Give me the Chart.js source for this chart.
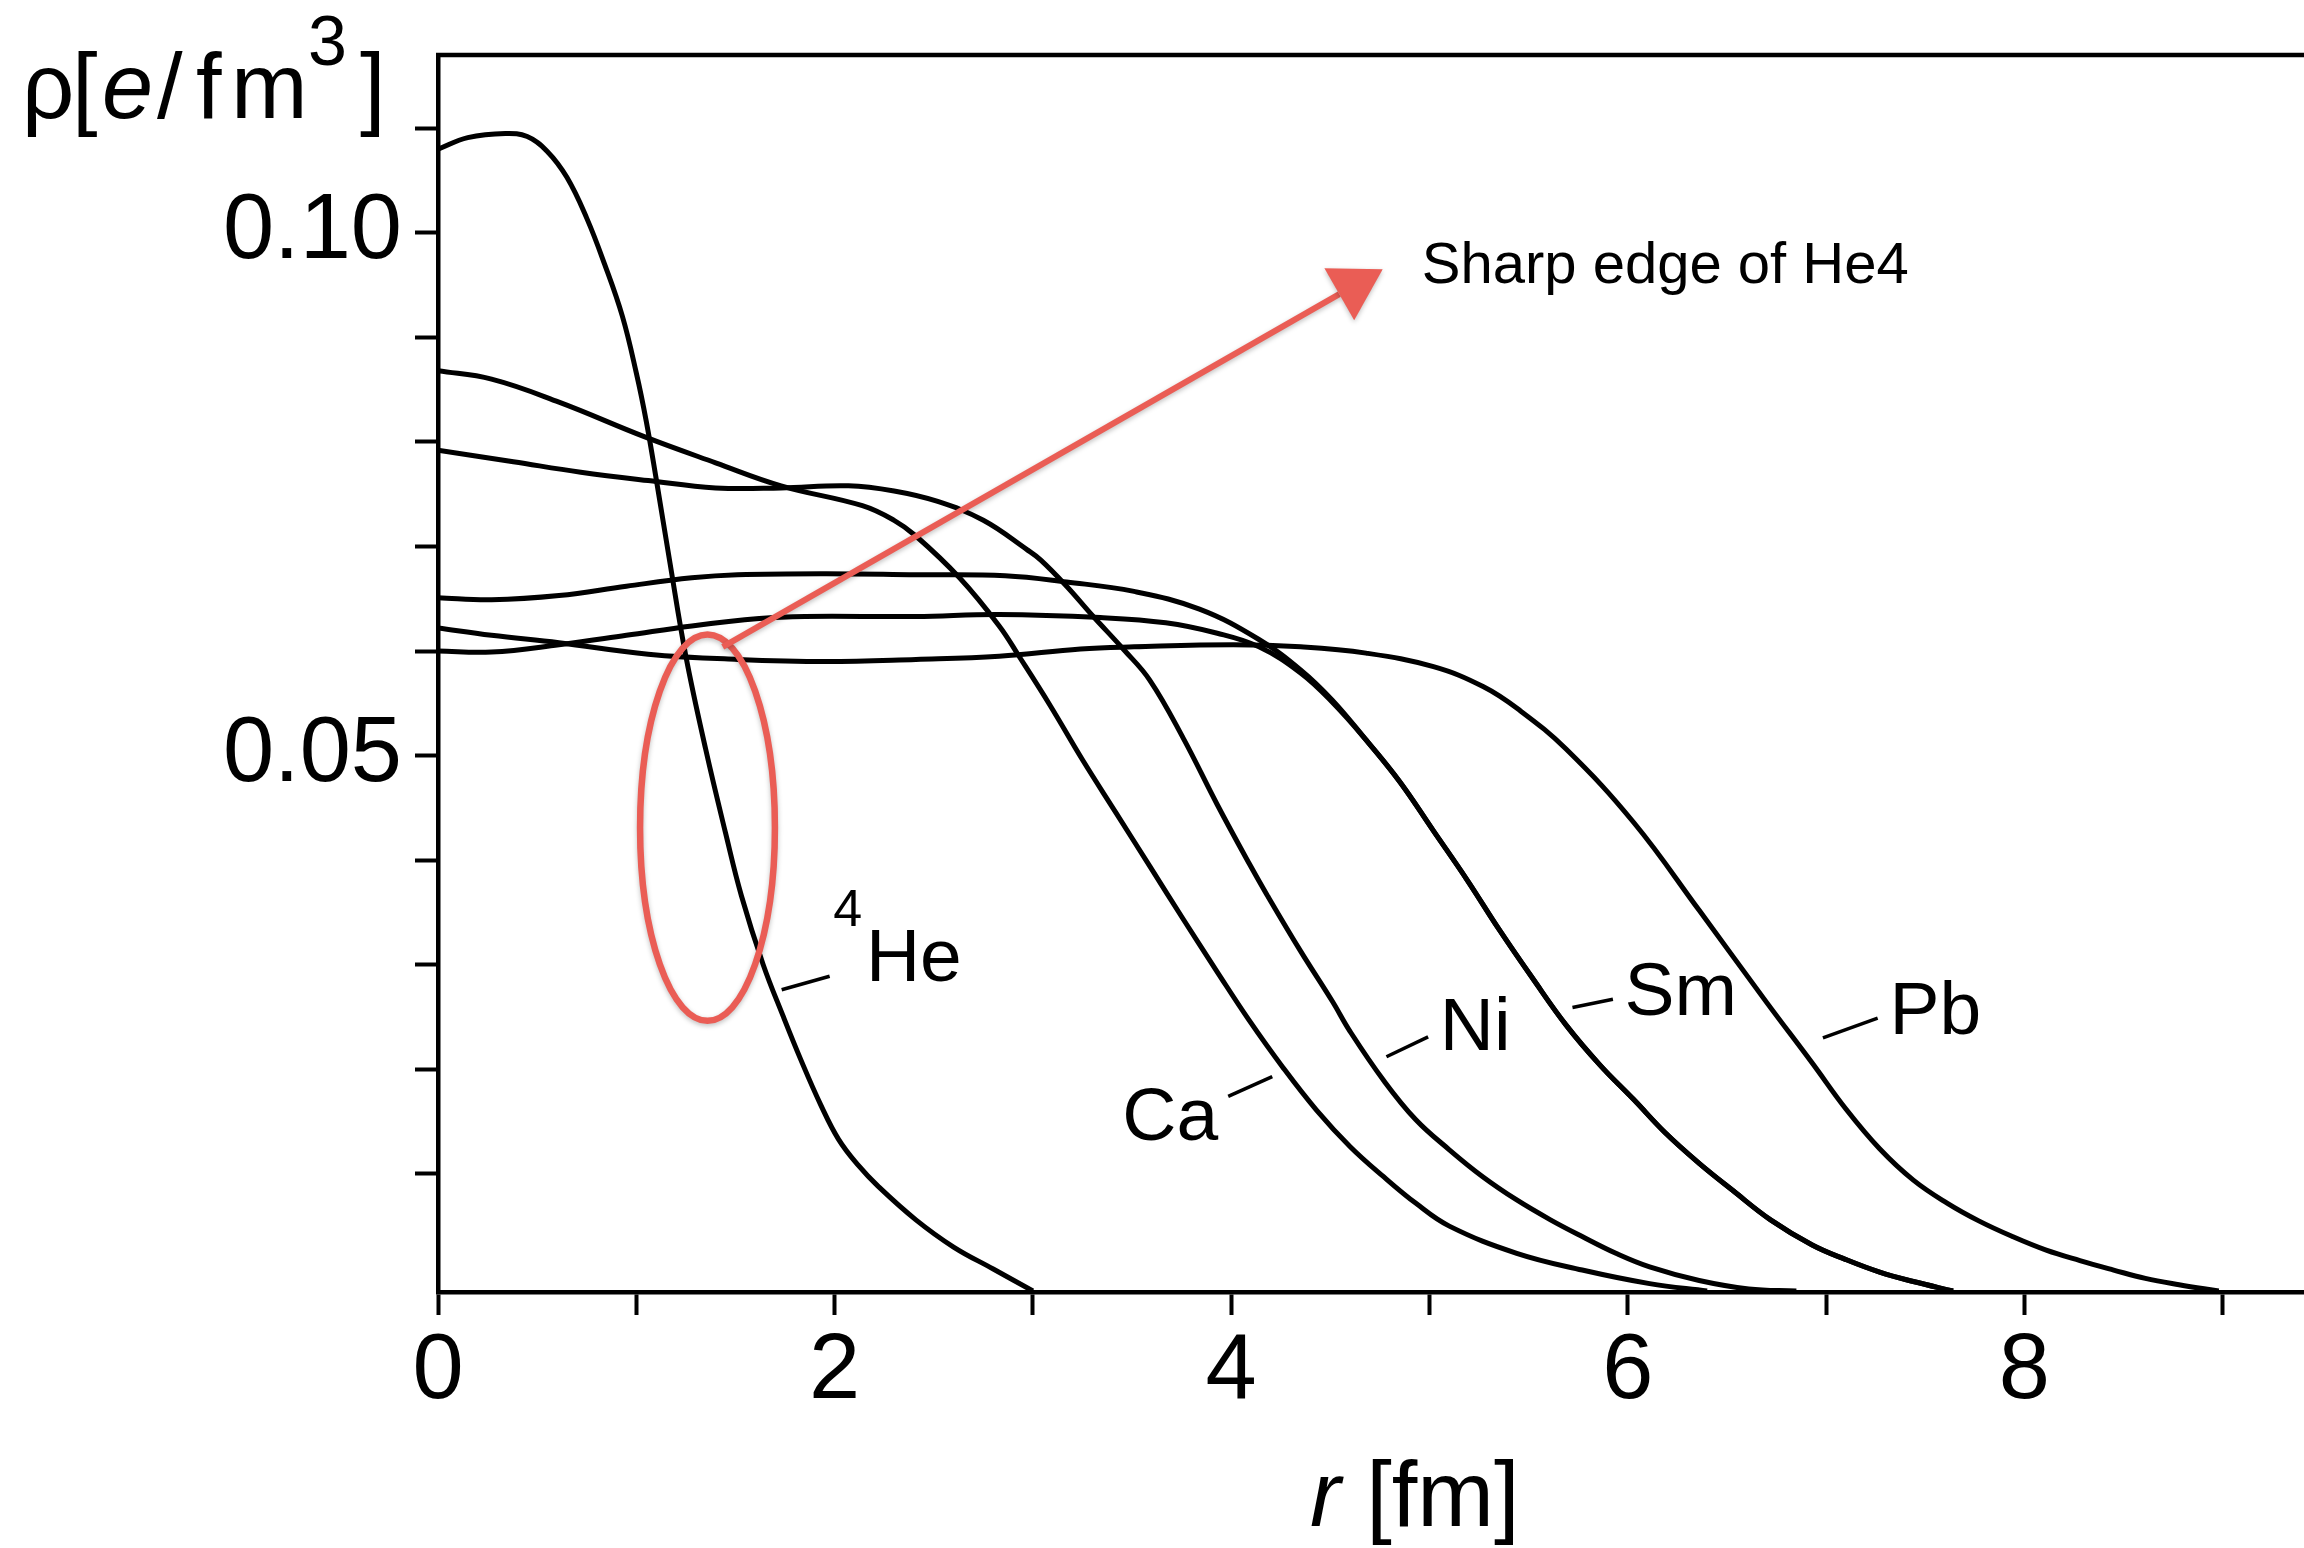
<!DOCTYPE html>
<html>
<head>
<meta charset="utf-8">
<script src="https://cdn.jsdelivr.net/npm/chart.js"></script>
<style>
  html, body { margin: 0; padding: 0; background: #fff; }
  canvas { display: block; }
</style>
</head>
<body>

<canvas id="chart" width="2304" height="1548"></canvas>

<script>
// charge density rho [e/fm^3] against radius r [fm]
const heR   = [0, 0.15, 0.34, 0.45, 0.55, 0.65, 0.75, 0.84, 0.93, 1.00, 1.05, 1.10, 1.17, 1.25, 1.35, 1.45, 1.53, 1.64, 1.74, 1.83, 1.93, 2.02, 2.12, 2.22, 2.41, 2.60, 2.80, 3.00];
const heRho = [0.1080, 0.1091, 0.1095, 0.1092, 0.1078, 0.1053, 0.1014, 0.0970, 0.0920, 0.0866, 0.0820, 0.0765, 0.0684, 0.0595, 0.0506, 0.0426, 0.0366, 0.0300, 0.0251, 0.0209, 0.0166, 0.0133, 0.0108, 0.0088, 0.0056, 0.0030, 0.0009, -0.0012];

const caR   = [0, 0.27, 0.61, 1.04, 1.40, 1.73, 2.14, 2.30, 2.41, 2.63, 2.83, 2.93, 3.09, 3.25, 3.42, 3.59, 3.76, 3.93, 4.09, 4.26, 4.43, 4.60, 4.77, 4.93, 5.10, 5.44, 5.77, 6.11, 6.40];
const caRho = [0.0868, 0.0860, 0.0838, 0.0805, 0.0780, 0.0758, 0.0739, 0.0725, 0.0710, 0.0670, 0.0624, 0.0595, 0.0547, 0.0496, 0.0445, 0.0394, 0.0343, 0.0293, 0.0247, 0.0202, 0.0161, 0.0126, 0.0097, 0.0072, 0.0050, 0.0024, 0.0008, -0.0005, -0.0012];

const niR   = [0, 0.38, 0.72, 1.06, 1.40, 1.73, 2.07, 2.30, 2.52, 2.75, 2.97, 3.04, 3.17, 3.30, 3.46, 3.59, 3.76, 3.93, 4.09, 4.18, 4.35, 4.51, 4.60, 4.77, 4.93, 5.10, 5.27, 5.44, 5.61, 5.77, 5.94, 6.11, 6.36, 6.61, 6.85];
const niRho = [0.0792, 0.0781, 0.0771, 0.0763, 0.0756, 0.0756, 0.0758, 0.0753, 0.0743, 0.0725, 0.0697, 0.0687, 0.0662, 0.0634, 0.0601, 0.0572, 0.0516, 0.0453, 0.0397, 0.0367, 0.0313, 0.0265, 0.0236, 0.0189, 0.0152, 0.0123, 0.0097, 0.0075, 0.0056, 0.0040, 0.0024, 0.0011, -0.0002, -0.0010, -0.0012];

const smR   = [0, 0.27, 0.61, 0.95, 1.28, 1.51, 1.96, 2.41, 2.86, 3.17, 3.51, 3.84, 4.14, 4.35, 4.51, 4.68, 4.85, 5.02, 5.19, 5.35, 5.52, 5.69, 5.86, 6.03, 6.19, 6.36, 6.53, 6.72, 6.93, 7.10, 7.27, 7.44, 7.64];
const smRho = [0.0651, 0.0649, 0.0653, 0.0662, 0.0670, 0.0673, 0.0674, 0.0673, 0.0672, 0.0666, 0.0657, 0.0640, 0.0611, 0.0582, 0.0553, 0.0515, 0.0475, 0.0428, 0.0381, 0.0334, 0.0287, 0.0242, 0.0204, 0.0171, 0.0139, 0.0110, 0.0084, 0.0056, 0.0032, 0.0018, 0.0006, -0.0003, -0.0012];

// unlabelled curve that joins the Sm fall-off
const sm2R   = [0, 0.27, 0.61, 0.95, 1.28, 1.62, 1.85, 2.41, 2.83, 3.34, 3.67, 3.93, 4.14, 4.35, 4.51, 4.68, 4.85, 5.02, 5.19, 5.35, 5.52, 5.69, 5.86, 6.03, 6.19, 6.36, 6.53, 6.72, 6.93, 7.10, 7.27, 7.44, 7.64];
const sm2Rho = [0.0600, 0.0599, 0.0606, 0.0615, 0.0624, 0.0631, 0.0633, 0.0633, 0.0635, 0.0632, 0.0627, 0.0617, 0.0604, 0.0579, 0.0551, 0.0515, 0.0475, 0.0428, 0.0381, 0.0334, 0.0287, 0.0242, 0.0204, 0.0171, 0.0139, 0.0110, 0.0084, 0.0056, 0.0032, 0.0018, 0.0006, -0.0003, -0.0012];

const pbR   = [0, 0.27, 0.61, 1.06, 1.51, 1.96, 2.41, 2.83, 3.24, 3.51, 4.01, 4.35, 4.68, 5.02, 5.27, 5.45, 5.69, 6.03, 6.36, 6.70, 6.93, 7.10, 7.27, 7.44, 7.61, 7.77, 7.94, 8.11, 8.28, 8.45, 8.61, 8.78, 8.98];
const pbRho = [0.0622, 0.0615, 0.0608, 0.0597, 0.0592, 0.0590, 0.0592, 0.0595, 0.0602, 0.0604, 0.0606, 0.0604, 0.0598, 0.0585, 0.0566, 0.0544, 0.0506, 0.0436, 0.0352, 0.0264, 0.0206, 0.0162, 0.0124, 0.0094, 0.0072, 0.0055, 0.0040, 0.0027, 0.0017, 0.0008, 0.0000, -0.0006, -0.0012];

const xTicks = [0, 1, 2, 3, 4, 5, 6, 7, 8, 9];
const xTickLabels = ['0', '', '2', '', '4', '', '6', '', '8', ''];
const yTicks = [0.01, 0.02, 0.03, 0.04, 0.05, 0.06, 0.07, 0.08, 0.09, 0.10, 0.11];
const yTickLabels = ['', '', '', '', '0.05', '', '', '', '', '0.10', ''];

const series = [
  { name: '4He', r: heR, rho: heRho },
  { name: 'Ca', r: caR, rho: caRho },
  { name: 'Ni', r: niR, rho: niRho },
  { name: 'Sm', r: smR, rho: smRho },
  { name: 'Sm (second curve)', r: sm2R, rho: sm2Rho },
  { name: 'Pb', r: pbR, rho: pbRho }
];

// curve labels: text anchor and leader line, in data units
const curveLabels = [
  { text: 'He', sup: '4', x: 2.158, y: 0.0284, sx: 1.993, sy: 0.0337, l: [1.733, 0.0276, 1.975, 0.0289] },
  { text: 'Ca', x: 3.451, y: 0.0132, l: [3.985, 0.0174, 4.207, 0.0193] },
  { text: 'Ni', x: 5.052, y: 0.0218, l: [4.783, 0.0212, 4.993, 0.0231] },
  { text: 'Sm', x: 5.983, y: 0.0252, l: [5.721, 0.0259, 5.925, 0.0267] },
  { text: 'Pb', x: 7.320, y: 0.0234, l: [6.984, 0.0230, 7.260, 0.0249] }
];

// red hand-drawn note
const note = {
  text: 'Sharp edge of He4',
  textX: 4.961, textY: 0.0952,
  ellipse: { x: 1.359, y: 0.0431, rx: 0.340, ry: 0.01847 },
  arrow: [1.436, 0.0604, 4.764, 0.0965]
};

const FONT = '"Liberation Sans", Arial, Helvetica, sans-serif';
const RED = '#ea5d55';

const overlay = {
  id: 'overlay',
  afterDraw(chart) {
    const { ctx, chartArea: a, scales: { x, y } } = chart;
    const X = v => x.getPixelForValue(v);
    const Y = v => y.getPixelForValue(v);
    ctx.save();

    // top frame line
    ctx.strokeStyle = '#000';
    ctx.lineWidth = 4.5;
    ctx.beginPath();
    ctx.moveTo(a.left - 2, a.top);
    ctx.lineTo(a.right, a.top);
    ctx.stroke();

    // curve labels
    ctx.fillStyle = '#000';
    ctx.textBaseline = 'alphabetic';
    ctx.textAlign = 'left';
    ctx.lineWidth = 3.5;
    curveLabels.forEach(c => {
      ctx.beginPath();
      ctx.moveTo(X(c.l[0]), Y(c.l[1]));
      ctx.lineTo(X(c.l[2]), Y(c.l[3]));
      ctx.stroke();
      ctx.font = '75px ' + FONT;
      ctx.fillText(c.text, X(c.x), Y(c.y));
      if (c.sup) {
        ctx.font = '52px ' + FONT;
        ctx.fillText(c.sup, X(c.sx), Y(c.sy));
      }
    });

    // y axis title  rho[e/fm^3]
    const base = 118;
    ctx.font = '92px ' + FONT;
    ctx.fillText('\u03c1', 22, base);
    ctx.fillText('[', 72, base);
    ctx.font = 'italic 92px ' + FONT;
    ctx.fillText('e', 102, base);
    ctx.font = '92px ' + FONT;
    ctx.fillText('/', 157, base);
    ctx.fillText('f', 196, base);
    ctx.fillText('m', 231, base);
    ctx.fillText(']', 360, base);
    ctx.font = '70px ' + FONT;
    ctx.fillText('3', 308, 65);

    // x axis title  r [fm]
    ctx.font = 'italic 92px ' + FONT;
    ctx.fillText('r', 1310, 1526);
    const rw = ctx.measureText('r').width;
    ctx.font = '92px ' + FONT;
    ctx.fillText(' [fm]', 1310 + rw, 1526);

    // note text
    ctx.font = '58px ' + FONT;
    ctx.fillText(note.text, X(note.textX), Y(note.textY));

    // red ellipse and arrow
    ctx.shadowColor = 'rgba(0,0,0,0.25)';
    ctx.shadowBlur = 5;
    ctx.shadowOffsetY = 2;
    ctx.strokeStyle = RED;
    ctx.fillStyle = RED;
    ctx.lineWidth = 6.5;
    const e = note.ellipse;
    ctx.beginPath();
    ctx.ellipse(X(e.x), Y(e.y), X(e.x + e.rx) - X(e.x), Y(e.y) - Y(e.y + e.ry), 0, 0, Math.PI * 2);
    ctx.stroke();

    const x1 = X(note.arrow[0]), y1 = Y(note.arrow[1]);
    const x2 = X(note.arrow[2]), y2 = Y(note.arrow[3]);
    const ang = Math.atan2(y2 - y1, x2 - x1);
    const headLen = 50, headHalf = 30;
    const bx = x2 - headLen * Math.cos(ang), by = y2 - headLen * Math.sin(ang);
    ctx.lineWidth = 6;
    ctx.beginPath();
    ctx.moveTo(x1, y1);
    ctx.lineTo(bx, by);
    ctx.stroke();
    ctx.beginPath();
    ctx.moveTo(x2, y2);
    ctx.lineTo(bx + headHalf * Math.sin(ang), by - headHalf * Math.cos(ang));
    ctx.lineTo(bx - headHalf * Math.sin(ang), by + headHalf * Math.cos(ang));
    ctx.closePath();
    ctx.fill();

    ctx.restore();
  }
};

new Chart(document.getElementById('chart'), {
  type: 'line',
  data: {
    datasets: series.map(s => ({
      label: s.name,
      data: s.r.map((r, i) => ({ x: r, y: s.rho[i] })),
      borderColor: '#000',
      borderWidth: 5,
      pointRadius: 0,
      fill: false,
      tension: 0.4
    }))
  },
  options: {
    responsive: false,
    animation: false,
    devicePixelRatio: 1,
    layout: { padding: { top: 55, left: 0, right: 0, bottom: 0 }, autoPadding: false },
    plugins: { legend: { display: false }, tooltip: { enabled: false } },
    scales: {
      x: {
        type: 'linear',
        min: 0,
        max: 9.41,
        afterBuildTicks: s => { s.ticks = xTicks.map(v => ({ value: v })); },
        afterFit: s => { s.height = 256; s.paddingLeft = 0; s.paddingRight = 0; },
        border: { display: true, color: '#000', width: 4.5 },
        grid: { drawOnChartArea: false, drawTicks: true, tickLength: 23, tickWidth: 4, tickColor: '#000' },
        ticks: {
          autoSkip: false, maxRotation: 0, padding: 2, color: '#000',
          font: { family: FONT, size: 92 },
          callback: (v, i) => xTickLabels[i]
        }
      },
      y: {
        type: 'linear',
        min: -0.0013,
        max: 0.117,
        afterBuildTicks: s => { s.ticks = yTicks.map(v => ({ value: v })); },
        afterFit: s => { s.width = 438; s.paddingTop = 0; s.paddingBottom = 0; },
        border: { display: true, color: '#000', width: 4.5 },
        grid: { drawOnChartArea: false, drawTicks: true, tickLength: 23, tickWidth: 4, tickColor: '#000' },
        ticks: {
          autoSkip: false, padding: 13, color: '#000',
          font: { family: FONT, size: 92 },
          callback: (v, i) => yTickLabels[i]
        }
      }
    }
  },
  plugins: [overlay]
});
</script>

</body>
</html>
